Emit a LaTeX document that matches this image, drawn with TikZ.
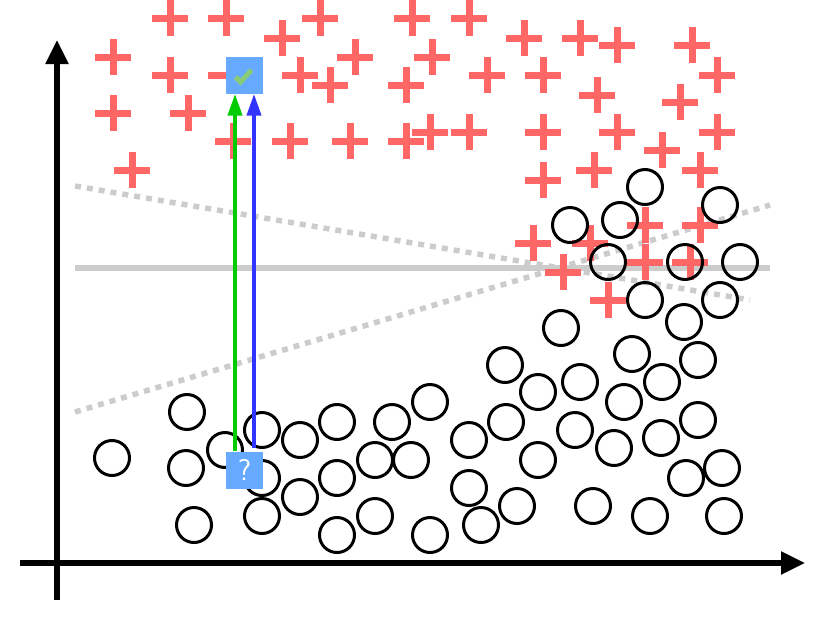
\documentclass[tikz,border=0pt]{standalone}
\usetikzlibrary{arrows.meta,calc}
\begin{document}
\begin{tikzpicture}[x=1pt,y=-1pt,
  circ/.style={draw=black,line width=3pt,circle,minimum size=35pt,inner sep=0pt},
  ax/.style={line width=5.5pt,-{Triangle[length=24pt,width=22pt]}},
  bxs/.style={fill=bx,minimum width=37pt,minimum height=37pt,inner sep=0pt}]
\definecolor{pc}{HTML}{FF6666}
\definecolor{bx}{HTML}{66AAFF}
\definecolor{gg}{HTML}{CCCCCC}
\definecolor{ck}{HTML}{88CC77}
\useasboundingbox (0,0) rectangle (830,622);
% guides
\draw[line width=5.5pt,gg] (75,268) -- (770,268);
\draw[line width=5.5pt,gg,dash pattern=on 6pt off 6pt] (75,186) -- (750,300);
\draw[line width=5.5pt,gg,dash pattern=on 6pt off 6pt] (75,412) -- (770,205);
% pluses
\foreach \x/\y in {170/18,226/18,320/18,412/18,469/18,282/38,524/38,580/38,617/45,692/45,
 113/57,355/57,432/57,170/75,300/75,330/85,406/85,487/75,543/75,717/75,597/95,680/102,
 113/113,188/113,430/132,469/132,543/132,617/132,717/132,233/141,290/141,350/141,406/141,
 662/150,132/170,594/170,700/170,543/180,645/225,700/225,533/243,590/243,645/262,690/262,563/272,608/300}
 {\fill[pc] (\x-18,\y-3.5) rectangle (\x+18,\y+3.5);
  \fill[pc] (\x-3.5,\y-18) rectangle (\x+3.5,\y+18);}
\fill[pc] (208,71.5) rectangle (226,78.5);
% circles
\foreach \x/\y [count=\i] in {645/187,720/205,570/225,620/220,740/262,608/262,685/262,645/300,720/300,
 561/328,684/322,632/354,698/360,505/365,538/392,580/382,662/382,624/402,187/412,430/402,392/422,
 337/422,262/430,300/440,225/450,469/440,506/422,575/430,698/420,661/438,614/448,112/458,186/468,
 375/460,411/460,538/460,262/478,337/478,300/497,469/488,686/478,722/468,194/525,262/516,375/516,
 337/535,430/535,481/525,517/506,593/506,650/516,724/516}
 \node[circ] (c\i) at (\x,\y) {};
% boxes
\node[bxs] (q) at (244.5,470) {\color{white}\sffamily\fontsize{30}{30}\selectfont ?};
\node[bxs] (t) at (244.5,75) {};
\draw[ck,line width=5pt] ($(t.center)+(-9,2)$) -- ++(5,5) -- ++(11,-12);
\coordinate (bs) at (254,448);
\draw[line width=4pt,green!80!black,-{Triangle[length=22pt,width=14pt]}] (q.north -| 235,0) -- (t.south -| 235,0);
\draw[line width=4pt,blue!80,-{Triangle[length=22pt,width=14pt]}] (bs) -- (t.south -| bs);
% axes
\draw[ax] (57,600) -- (57,40);
\draw[ax] (20,563) -- (805,563);
\end{tikzpicture}
\end{document}
